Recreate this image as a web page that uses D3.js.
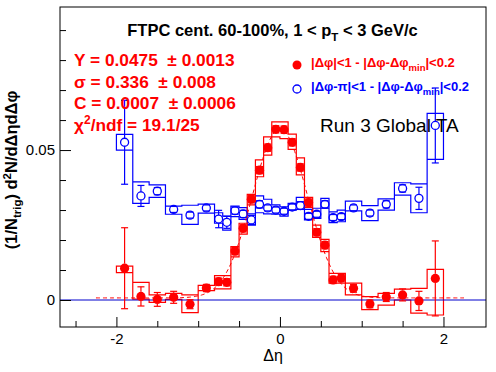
<!DOCTYPE html>
<html>
<head>
<meta charset="utf-8">
<script src="https://cdn.jsdelivr.net/npm/d3@7"></script>
<style>
  html, body { margin: 0; padding: 0; background: #fff; }
  svg { display: block; }
  text { font-family: "Liberation Sans", Arial, Helvetica, sans-serif; white-space: pre; }
</style>
</head>
<body>
<svg id="chart" width="496" height="372"></svg>
<script>
// ---------------- data ----------------
const binCenters = [-1.9,-1.7,-1.5,-1.3,-1.1,-0.9,-0.75,-0.65,-0.55,-0.45,-0.35,-0.25,-0.15,-0.05,
                    0.05,0.15,0.25,0.35,0.45,0.55,0.65,0.75,0.9,1.1,1.3,1.5,1.7,1.9];
const binEdges = [-2.0,-1.8,-1.6,-1.4,-1.2,-1.0,-0.8,-0.7,-0.6,-0.5,-0.4,-0.3,-0.2,-0.1,0,
                  0.1,0.2,0.3,0.4,0.5,0.6,0.7,0.8,1.0,1.2,1.4,1.6,1.8,2.0];

const nearValues = [0.0106,0.0012,0.0002,0.0009,-0.0014,0.0040,0.0061,0.0059,0.0163,0.0239,0.0336,0.0433,0.0508,0.0569,
                    0.0568,0.0526,0.0442,0.0325,0.0226,0.0183,0.0067,0.0073,0.0039,-0.0013,0.0010,0.0017,-0.0003,0.0072];
const nearErrors = [0.0135,0.0032,0.0023,0.0020,0.0015,0.0012,0.0012,0.0012,0.0012,0.0012,0.0012,0.0012,0.0012,0.0012,
                    0.0012,0.0012,0.0012,0.0012,0.0012,0.0012,0.0012,0.0012,0.0013,0.0013,0.0015,0.0020,0.0032,0.0125];
const nearSysHi = [0.0113,0.0059,0.0017,0.0022,0.0017,0.0049,0.0081,0.0081,0.0178,0.0256,0.0352,0.0467,0.0544,0.0594,
                   0.0594,0.0553,0.0474,0.0342,0.0250,0.0202,0.0089,0.0089,0.0056,0.0011,0.0022,0.0036,0.0039,0.0102];
const nearSysLo = [0.0091,0.0003,-0.0008,0.0002,-0.0042,0.0031,0.0037,0.0037,0.0144,0.0220,0.0317,0.0411,0.0483,0.0544,
                   0.0538,0.0502,0.0417,0.0309,0.0209,0.0161,0.0056,0.0056,0.0017,-0.0032,-0.0017,0.0000,-0.0044,-0.0050];

const awayValues = [0.0526,0.0347,0.0363,0.0302,0.0283,0.0307,0.0270,0.0259,0.0298,0.0287,0.0267,0.0319,0.0307,0.0300,
                    0.0296,0.0310,0.0315,0.0279,0.0286,0.0319,0.0275,0.0278,0.0307,0.0290,0.0319,0.0372,0.0339,0.0582];
const awayErrors = [0.0140,0.0035,0.0012,0.0010,0.0010,0.0010,0.0029,0.0020,0.0012,0.0012,0.0015,0.0012,0.0010,0.0010,
                    0.0010,0.0010,0.0013,0.0010,0.0010,0.0012,0.0010,0.0010,0.0010,0.0010,0.0012,0.0012,0.0037,0.0125];
const awaySysHi = [0.0552,0.0394,0.0384,0.0313,0.0316,0.0320,0.0291,0.0280,0.0313,0.0308,0.0287,0.0347,0.0336,0.0317,
                   0.0311,0.0322,0.0342,0.0302,0.0306,0.0339,0.0294,0.0300,0.0330,0.0315,0.0337,0.0391,0.0387,0.0622];
const awaySysLo = [0.0500,0.0322,0.0342,0.0286,0.0252,0.0290,0.0256,0.0233,0.0278,0.0269,0.0250,0.0291,0.0287,0.0286,
                   0.0280,0.0300,0.0302,0.0267,0.0272,0.0306,0.0258,0.0261,0.0297,0.0265,0.0300,0.0350,0.0291,0.0469];

// fit parameters shown on the chart (Gaussian + constant)
const fitY = 0.0475, fitSigma = 0.336, fitC = 0.0007;
const fitRange = [-2.25, 2.25];

const xMajorTicks = [-2, 0, 2];
const xMajorLabels = ["-2", "0", "2"];
const xMinorTicks = [-2.5,-1.5,-1,-0.5,0.5,1,1.5];
const yMajorTicks = [0, 0.05];
const yMajorLabels = ["0", "0.05"];
const yMinorTicks = [0.01,0.02,0.03,0.04,0.06,0.07,0.08,0.09];

// ---------------- chart ----------------
const svg = d3.select("#chart");
const L = 60, R = 486, T = 7, B = 327;
const x = d3.scaleLinear().domain([-2.69, 2.52]).range([L, R]);
const y = d3.scaleLinear().domain([-0.009, 0.0977]).range([B, T]);

const RED = "#ff0000", BLUE = "#0000ff";

// systematic step outlines
function sysPath(hi, lo) {
  let p = `M${x(binEdges[0])},${y(lo[0])}V${y(hi[0])}`;
  for (let i = 0; i < binCenters.length; i++) {
    p += `H${x(binEdges[i+1])}`;
    if (i < binCenters.length - 1) p += `V${y(hi[i+1])}`;
  }
  p += `V${y(lo[lo.length-1])}`;
  for (let i = binCenters.length - 1; i >= 0; i--) {
    p += `H${x(binEdges[i])}`;
    if (i > 0) p += `V${y(lo[i-1])}`;
  }
  return p + "Z";
}
svg.append("path").attr("d", sysPath(awaySysHi, awaySysLo))
  .attr("fill", "none").attr("stroke", BLUE).attr("stroke-width", 1.2);
svg.append("path").attr("d", sysPath(nearSysHi, nearSysLo))
  .attr("fill", "none").attr("stroke", RED).attr("stroke-width", 1.2);

// fit curve
const fitPts = d3.range(0, 301).map(i => {
  const xv = fitRange[0] + (fitRange[1] - fitRange[0]) * i / 300;
  return [xv, fitC + fitY / (Math.sqrt(2 * Math.PI) * fitSigma) * Math.exp(-xv * xv / (2 * fitSigma * fitSigma))];
});
svg.append("path").datum(fitPts)
  .attr("d", d3.line().x(d => x(d[0])).y(d => y(d[1])))
  .attr("fill", "none").attr("stroke", RED).attr("stroke-width", 1).attr("stroke-dasharray", "4,3");

// zero line
svg.append("line").attr("x1", L).attr("x2", R).attr("y1", y(0)).attr("y2", y(0))
  .attr("stroke", "#0000cc").attr("stroke-width", 1);

// error bars
function errorBars(vals, errs, color, r) {
  const g = svg.append("g").attr("stroke", color).attr("stroke-width", 1.2);
  binCenters.forEach((c, i) => {
    const cx = x(c), cy = y(vals[i]);
    const yt = y(vals[i] + errs[i]), yb = y(vals[i] - errs[i]);
    if (cy - r > yt) g.append("line").attr("x1", cx).attr("x2", cx).attr("y1", yt).attr("y2", cy - r);
    if (cy + r < yb) g.append("line").attr("x1", cx).attr("x2", cx).attr("y1", cy + r).attr("y2", yb);
    g.append("line").attr("x1", cx - 3.5).attr("x2", cx + 3.5).attr("y1", yt).attr("y2", yt);
    g.append("line").attr("x1", cx - 3.5).attr("x2", cx + 3.5).attr("y1", yb).attr("y2", yb);
  });
}
errorBars(awayValues, awayErrors, BLUE, 4);
errorBars(nearValues, nearErrors, RED, 4.6);

// markers
svg.append("g").selectAll("circle").data(binCenters).join("circle")
  .attr("cx", d => x(d)).attr("cy", (d, i) => y(awayValues[i])).attr("r", 4)
  .attr("fill", "none").attr("stroke", BLUE).attr("stroke-width", 1.3);
svg.append("g").selectAll("circle").data(binCenters).join("circle")
  .attr("cx", d => x(d)).attr("cy", (d, i) => y(nearValues[i])).attr("r", 4.6)
  .attr("fill", RED);

// frame
svg.append("rect").attr("x", L).attr("y", T).attr("width", R - L).attr("height", B - T)
  .attr("fill", "none").attr("stroke", "#000").attr("stroke-width", 1);

// axes
svg.append("g").attr("transform", `translate(0,${B})`)
  .call(d3.axisBottom(x).tickValues(xMajorTicks).tickSize(-10).tickPadding(6)
    .tickFormat((d, i) => xMajorLabels[i]));
svg.append("g").attr("transform", `translate(0,${B})`)
  .call(d3.axisBottom(x).tickValues(xMinorTicks).tickSize(-6).tickFormat(""));
svg.append("g").attr("transform", `translate(${L},0)`)
  .call(d3.axisLeft(y).tickValues(yMajorTicks).tickSize(-11).tickPadding(5)
    .tickFormat((d, i) => yMajorLabels[i]));
svg.append("g").attr("transform", `translate(${L},0)`)
  .call(d3.axisLeft(y).tickValues(yMinorTicks).tickSize(-6).tickFormat(""));
svg.selectAll(".domain").remove();
svg.selectAll(".tick line").attr("stroke", "#000");
svg.selectAll(".tick text").attr("font-size", 15).attr("font-family", "Liberation Sans, Arial, sans-serif").attr("fill", "#000");

// axis titles
svg.append("text").attr("x", 273).attr("y", 361).attr("text-anchor", "middle")
  .attr("font-size", 16).text("Δη");

const yl = svg.append("text").attr("transform", "translate(17,170) rotate(-90)")
  .attr("text-anchor", "middle").attr("font-size", 16.5).attr("font-weight", "bold");
yl.append("tspan").text("(1/N");
yl.append("tspan").attr("font-size", 11.5).attr("dy", 4).text("trig");
yl.append("tspan").attr("dy", -4).text(") d");
yl.append("tspan").attr("font-size", 11.5).attr("dy", -6).text("2");
yl.append("tspan").attr("dy", 6).text("N/dΔηdΔφ");

// title
const tt = svg.append("text").attr("x", 272.5).attr("y", 36).attr("text-anchor", "middle")
  .attr("font-size", 16.5).attr("font-weight", "bold");
tt.append("tspan").text("FTPC cent. 60-100%, 1 < p");
tt.append("tspan").attr("font-size", 11.5).attr("dy", 5).text("T");
tt.append("tspan").attr("dy", -5).text(" < 3 GeV/c");

// fit stats
const statLines = ["Y = 0.0475  ± 0.0013", "σ = 0.336  ± 0.008", "C = 0.0007  ± 0.0006"];
const statY = [66, 87.5, 109];
statLines.forEach((s, i) => {
  svg.append("text").attr("x", 74).attr("y", statY[i]).attr("font-size", 17.3)
    .attr("font-weight", "bold").attr("fill", RED).text(s);
});
const chi = svg.append("text").attr("x", 74).attr("y", 131).attr("font-size", 17.3)
  .attr("font-weight", "bold").attr("fill", RED);
chi.append("tspan").text("χ");
chi.append("tspan").attr("font-size", 12).attr("dy", -7).text("2");
chi.append("tspan").attr("dy", 7).text("/ndf = 19.1/25");

// legend
svg.append("circle").attr("cx", 297).attr("cy", 65).attr("r", 4.5).attr("fill", RED);
svg.append("circle").attr("cx", 297).attr("cy", 89).attr("r", 4).attr("fill", "none")
  .attr("stroke", BLUE).attr("stroke-width", 1.3);
function legendText(yy, color, first) {
  const t = svg.append("text").attr("x", 311).attr("y", yy).attr("font-size", 13)
    .attr("font-weight", "bold").attr("fill", color);
  t.append("tspan").text(first + " - |Δφ-Δφ");
  t.append("tspan").attr("font-size", 9.5).attr("dy", 4).text("min");
  t.append("tspan").attr("dy", -4).text("|<0.2");
}
legendText(67, RED, "|Δφ|<1");
legendText(90.5, BLUE, "|Δφ-π|<1");

// run label
svg.append("text").attr("x", 320).attr("y", 132).attr("font-size", 19).attr("fill", "#000")
  .text("Run 3 Global TA");
</script>
</body>
</html>
